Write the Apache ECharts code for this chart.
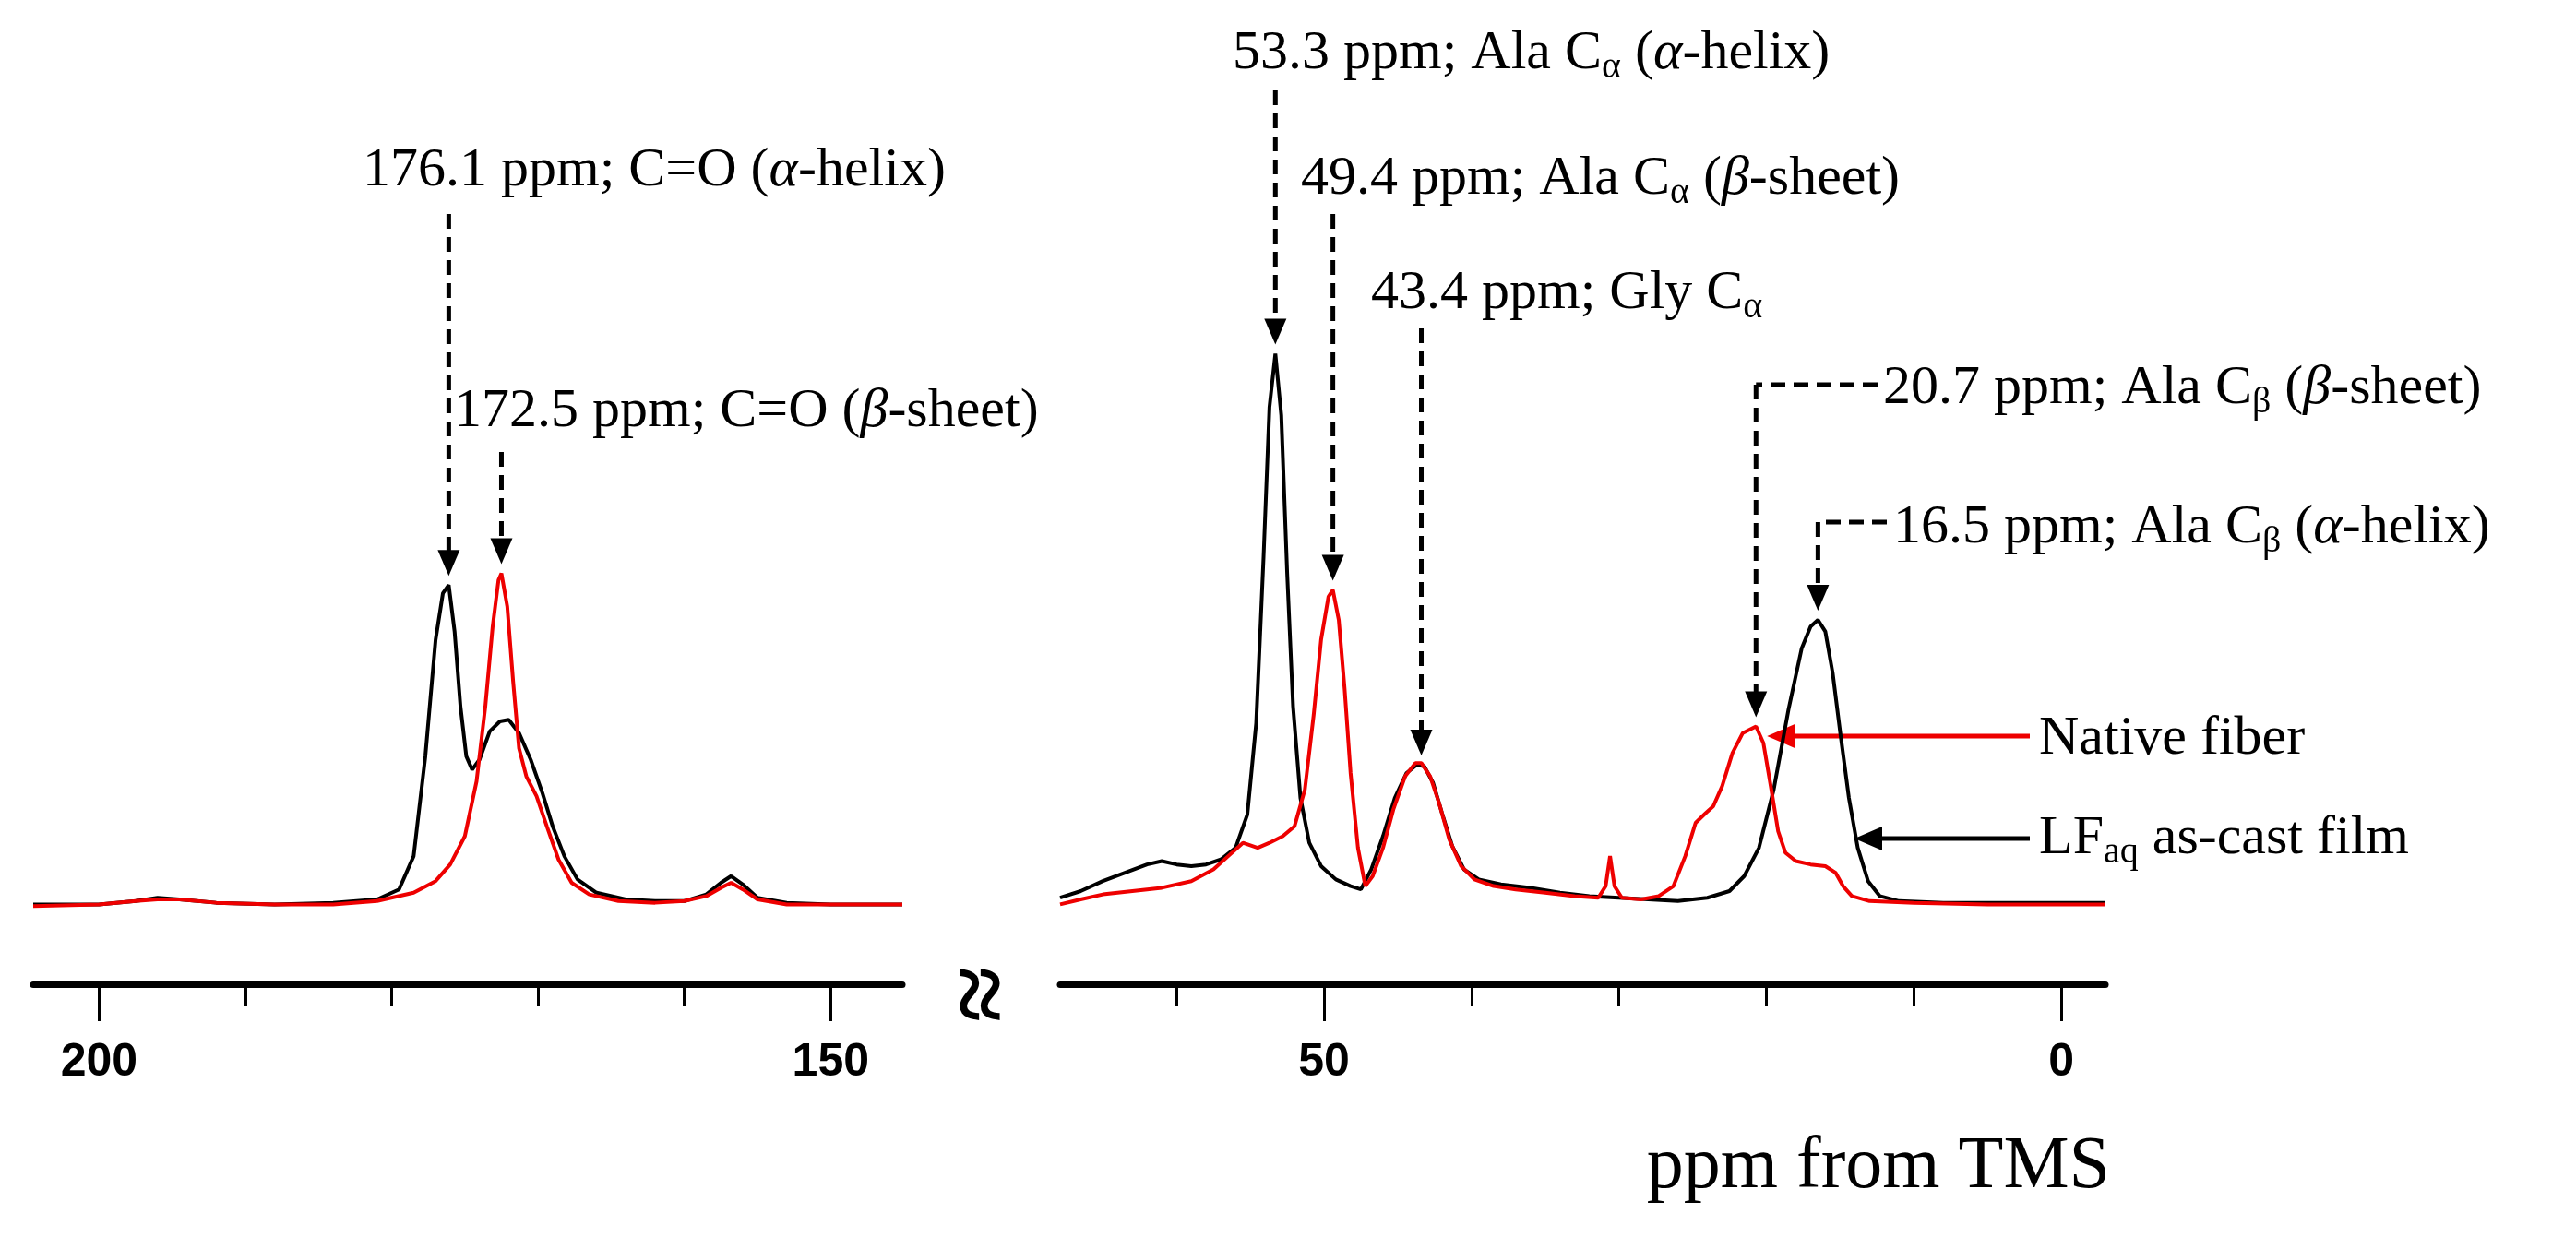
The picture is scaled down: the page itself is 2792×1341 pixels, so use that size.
<!DOCTYPE html>
<html>
<head>
<meta charset="utf-8">
<script src="https://cdn.jsdelivr.net/npm/echarts@6/dist/echarts.min.js"></script>
<style>html,body{margin:0;padding:0;background:#fff}#main{width:2792px;height:1341px}</style>
</head>
<body>
<div id="main"></div>
<script>
// spectra: [ppm, intensity]
var blackCO = [[204.5,1],[200,1],[197.5,3],[196,5],[194.5,4],[192,2],[188,1],[184,2],[181,4],[179.5,10],[178.5,30],[177.7,90],[177,160],[176.5,188],[176.1,193],[175.7,165],[175.3,120],[174.9,90],[174.5,82],[174,88],[173.3,105],[172.6,111],[172,112],[171.3,104],[170.5,88],[169.7,68],[169,48],[168.2,30],[167.3,16],[166,8],[164,4],[162,3],[160,3],[158.5,7],[157.5,14],[156.8,18],[156,13],[155,5],[153,2],[150,1],[145.1,1]];
var redCO = [[204.5,0],[200,1],[197.5,3],[196,4],[194.5,4],[192,2],[188,1],[184,1],[181,3],[178.5,8],[177,15],[176,25],[175,42],[174.2,75],[173.6,120],[173.1,168],[172.7,196],[172.5,200],[172.1,180],[171.7,135],[171.3,95],[170.8,78],[170.1,66],[169.4,48],[168.6,28],[167.7,14],[166.5,7],[164.5,3],[162,2],[160,3],[158.5,6],[157.5,11],[156.8,14],[156,10],[155,4],[153,1],[150,1],[145.1,1]];
var blackAli = [[67.9,5],[66.5,9],[65,15],[63.5,20],[62,25],[61,27],[60,25],[59,24],[58,25],[57,28],[56,35],[55.2,55],[54.6,110],[54.1,210],[53.7,300],[53.3,332],[52.9,295],[52.5,200],[52.1,120],[51.6,65],[51,38],[50.2,24],[49.2,16],[48.2,12],[47.5,10],[46.8,22],[46,42],[45.2,65],[44.4,80],[43.7,85],[43.2,84],[42.6,74],[42,56],[41.3,36],[40.5,22],[39.5,16],[38,13],[36,11],[34,8],[32,6],[30,5],[28,4],[26,3],[24,5],[22.5,9],[21.5,18],[20.5,35],[19.5,70],[18.5,118],[17.6,155],[17,168],[16.5,172],[16,165],[15.5,140],[15,105],[14.4,65],[13.8,35],[13.1,15],[12.3,6],[11,3],[8,2],[4,2],[0,2],[-3,2]];
var redAli = [[67.9,1],[66.5,4],[65,7],[63,9],[61,11],[59,15],[57.5,22],[56.5,30],[55.5,38],[54.5,35],[53.7,38],[52.8,42],[52,48],[51.3,70],[50.7,115],[50.2,160],[49.7,186],[49.4,190],[49,172],[48.6,130],[48.2,80],[47.7,35],[47.2,12],[46.7,18],[46,35],[45.3,58],[44.5,78],[43.8,86],[43.4,86],[42.8,78],[42.2,62],[41.5,40],[40.7,24],[39.8,16],[38.5,12],[37,10],[35,8],[33,6],[31.4,5],[30.9,12],[30.6,30],[30.3,12],[29.8,5],[28.5,4],[27.3,6],[26.3,12],[25.5,30],[24.8,50],[24.1,56],[23.6,60],[23,72],[22.3,92],[21.6,104],[20.7,108],[20.2,98],[19.7,72],[19.2,45],[18.7,32],[18,27],[17,25],[16,24],[15.3,20],[14.8,12],[14.2,6],[13,3],[10,2],[5,1],[0,1],[-3,1]];

var leftTicks = [150, 160, 170, 180, 190, 200];
var leftLabels = [150, 200];
var rightTicks = [0, 10, 20, 30, 40, 50, 60];
var rightLabels = [0, 50];

var chart = echarts.init(document.getElementById('main'));
var labelFont = {fontFamily: 'Liberation Sans', fontWeight: 'bold', fontSize: 50, color: '#000'};

function axisPair(grid, mn, mx, ticks, labels) {
    return [{
        type: 'value', gridIndex: grid, inverse: true, min: mn, max: mx,
        axisLine: {show: true, onZero: false, lineStyle: {color: '#000', width: 7}},
        axisTick: {show: true, customValues: ticks, length: 24, lineStyle: {color: '#000', width: 3}},
        axisLabel: {show: false},
        splitLine: {show: false}
    }, {
        type: 'value', gridIndex: grid, inverse: true, min: mn, max: mx, position: 'bottom',
        axisLine: {show: false, onZero: false},
        axisTick: {show: true, customValues: labels, length: 40, lineStyle: {color: '#000', width: 3}},
        axisLabel: Object.assign({show: true, customValues: labels, margin: 60}, labelFont),
        splitLine: {show: false}
    }];
}

var yBase = {type: 'value', min: -47, max: 350, show: false, splitLine: {show: false}};

chart.setOption({
    animation: false,
    backgroundColor: '#fff',
    grid: [
        {left: 36, width: 942, top: 351, height: 716},
        {left: 1149, width: 1133, top: 351, height: 716}
    ],
    xAxis: axisPair(0, 145.1, 204.5, leftTicks, leftLabels).concat(axisPair(1, -3, 67.9, rightTicks, rightLabels)),
    yAxis: [Object.assign({gridIndex: 0}, yBase), Object.assign({gridIndex: 1}, yBase)],
    series: [
        {type: 'line', xAxisIndex: 0, yAxisIndex: 0, data: blackCO, showSymbol: false, lineStyle: {color: '#000', width: 4}},
        {type: 'line', xAxisIndex: 0, yAxisIndex: 0, data: redCO, showSymbol: false, lineStyle: {color: '#ee0000', width: 4}},
        {type: 'line', xAxisIndex: 2, yAxisIndex: 1, data: blackAli, showSymbol: false, lineStyle: {color: '#000', width: 4}},
        {type: 'line', xAxisIndex: 2, yAxisIndex: 1, data: redAli, showSymbol: false, lineStyle: {color: '#ee0000', width: 4}}
    ]
});

// annotations, x from the axes
function px(axis, v) { return chart.convertToPixel({xAxisIndex: axis}, v); }
function py(axis, v) { return chart.convertToPixel({yAxisIndex: axis}, v); }

var serif = 'Liberation Serif';
var rich = {
    n: {fontFamily: serif, fontSize: 60, color: '#000'},
    g: {fontFamily: serif, fontSize: 60, fontStyle: 'italic', color: '#000'},
    s: {fontFamily: serif, fontSize: 40, color: '#000', verticalAlign: 'bottom', padding: [30, 0, 0, 0]},
    r: {fontFamily: serif, fontSize: 60, color: '#ee0000'}
};
var els = [];
function txt(x, y, s) {
    els.push({type: 'text', x: x, y: y, style: {text: s, rich: rich, verticalAlign: 'middle', font: '60px ' + serif}});
}
function dash(x1, y1, x2, y2) {
    els.push({type: 'line', shape: {x1: x1, y1: y1, x2: x2, y2: y2}, style: {stroke: '#000', lineWidth: 5, lineDash: [16, 9]}});
}
function headDown(x, y, c) {
    els.push({type: 'polygon', shape: {points: [[x - 12, y - 28], [x + 12, y - 28], [x, y]]}, style: {fill: c || '#000'}});
}
function headLeft(x, y, c) {
    els.push({type: 'polygon', shape: {points: [[x + 30, y - 13], [x + 30, y + 13], [x, y]]}, style: {fill: c}});
}
function down(xa, ya, ppm, yTop, peak) {
    var x = px(xa, ppm), yb = py(ya, peak) - 10;
    dash(x, yTop, x, yb - 26);
    headDown(x, yb);
}

txt(393, 185, '{n|176.1 ppm; C=O (}{g|α}{n|-helix)}');
down(0, 0, 176.1, 232, 193);
txt(492, 446, '{n|172.5 ppm; C=O (}{g|β}{n|-sheet)}');
down(0, 0, 172.5, 490, 200);
txt(1336, 58, '{n|53.3 ppm; Ala C}{s|α}{n| (}{g|α}{n|-helix)}');
down(2, 1, 53.3, 98, 332);
txt(1410, 194, '{n|49.4 ppm; Ala C}{s|α}{n| (}{g|β}{n|-sheet)}');
down(2, 1, 49.4, 232, 190);
txt(1486, 318, '{n|43.4 ppm; Gly C}{s|α}');
down(2, 1, 43.4, 356, 85);

txt(2041, 421, '{n|20.7 ppm; Ala C}{s|β}{n| (}{g|β}{n|-sheet)}');
var x20 = px(2, 20.7);
dash(2035, 417, x20, 417);
dash(x20, 417, x20, py(1, 108) - 36);
headDown(x20, py(1, 108) - 10);
txt(2052, 572, '{n|16.5 ppm; Ala C}{s|β}{n| (}{g|α}{n|-helix)}');
var x16 = px(2, 16.5);
dash(2045, 566, x16, 566);
dash(x16, 566, x16, py(1, 172) - 36);
headDown(x16, py(1, 172) - 10);

txt(2210, 801, '{r|Native fiber}');
els.push({type: 'line', shape: {x1: 2200, y1: 798, x2: x20 + 40, y2: 798}, style: {stroke: '#ee0000', lineWidth: 5}});
headLeft(x20 + 12, 798, '#ee0000');
txt(2210, 909, '{n|LF}{s|aq}{n| as-cast film}');
els.push({type: 'line', shape: {x1: 2200, y1: 909, x2: 2040, y2: 909}, style: {stroke: '#000', lineWidth: 5}});
headLeft(2010, 909, '#000');

// axis break and title
els.push({type: 'text', x: 1071, y: 1078, rotation: Math.PI / 2, style: {text: '≈', font: 'bold 110px ' + serif, fill: '#000', align: 'center', verticalAlign: 'middle'}});
els.push({type: 'text', x: 2287, y: 1266, style: {text: 'ppm from TMS', font: '80px ' + serif, fill: '#000', align: 'right', verticalAlign: 'middle'}});

chart.setOption({graphic: els});
</script>
</body>
</html>
